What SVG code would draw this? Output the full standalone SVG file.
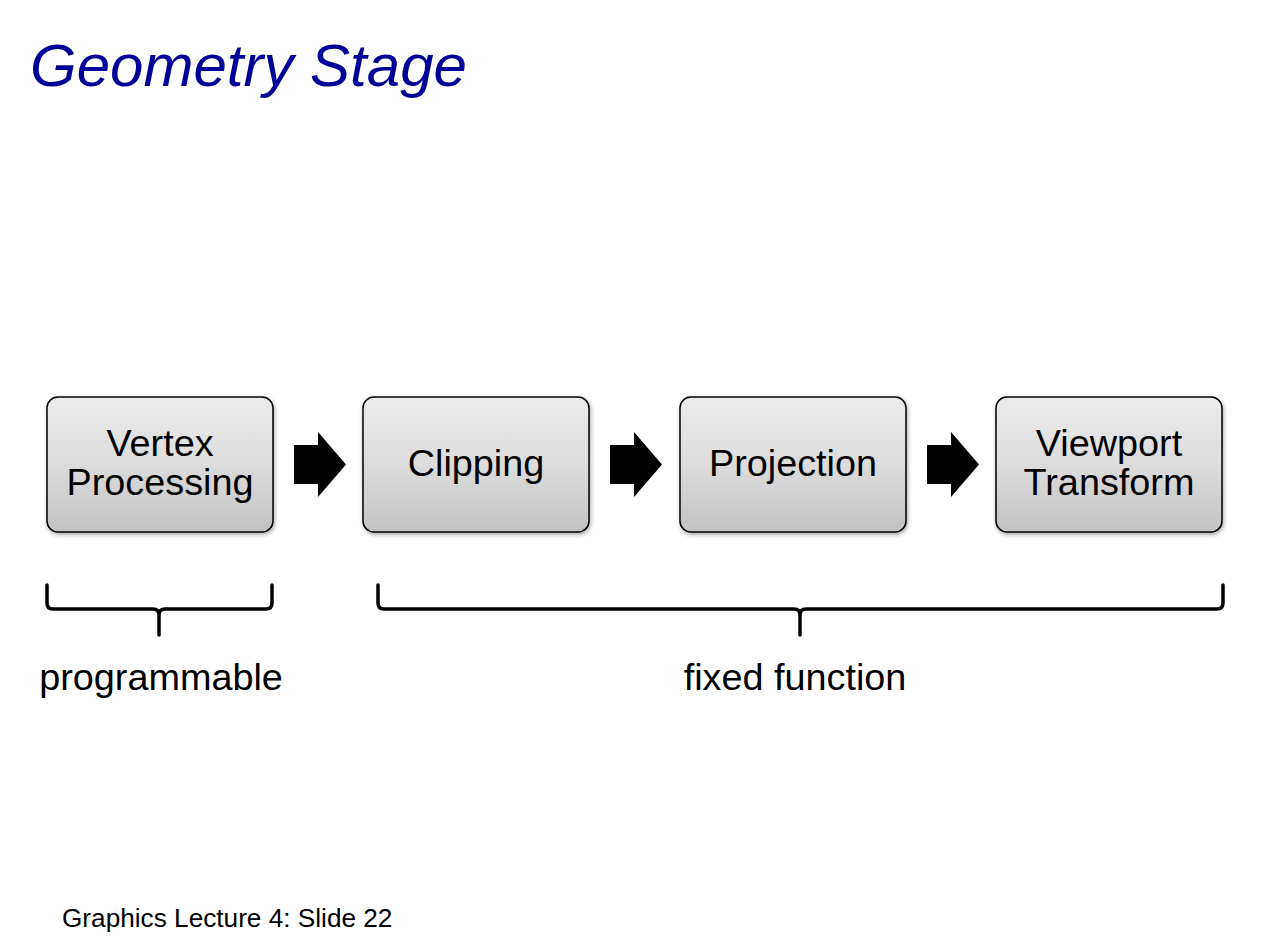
<svg xmlns="http://www.w3.org/2000/svg" width="1264" height="947" viewBox="0 0 1264 947">
<defs>
<linearGradient id="g" x1="0" y1="0" x2="0" y2="1">
<stop offset="0" stop-color="#ececec"/>
<stop offset="0.5" stop-color="#dcdcdc"/>
<stop offset="1" stop-color="#c2c2c2"/>
</linearGradient>
<filter id="sh" x="-10%" y="-10%" width="125%" height="130%">
<feDropShadow dx="1" dy="2" stdDeviation="2" flood-color="#000" flood-opacity="0.35"/>
</filter>
<path id="arr" d="M0,13 H24 V0 L52,32.5 L24,65 V52 H0 Z"/>
</defs>
<style>
.box{fill:url(#g);stroke:#000;stroke-width:1.5;filter:url(#sh)}
.t{font-family:"Liberation Sans",Arial,sans-serif;font-size:37.8px;fill:#000;text-anchor:middle}
.brace{fill:none;stroke:#000;stroke-width:3.5;stroke-linejoin:round;stroke-linecap:round}
</style>
<rect width="1264" height="947" fill="#fff"/>
<text x="30" y="86" font-family="Liberation Sans,Arial,sans-serif" font-style="italic" font-size="60" fill="#000099">Geometry Stage</text>
<g id="vertex">
<rect class="box" x="47" y="397" width="226" height="135" rx="11"/>
<text class="t" x="160" y="456">Vertex</text>
<text class="t" x="160" y="495">Processing</text>
</g>
<g id="clipping">
<rect class="box" x="363" y="397" width="226" height="135" rx="11"/>
<text class="t" x="476" y="476">Clipping</text>
</g>
<g id="projection">
<rect class="box" x="680" y="397" width="226" height="135" rx="11"/>
<text class="t" x="793" y="476">Projection</text>
</g>
<g id="viewport">
<rect class="box" x="996" y="397" width="226" height="135" rx="11"/>
<text class="t" x="1109" y="456">Viewport</text>
<text class="t" x="1109" y="495">Transform</text>
</g>
<g id="connectors">
<use href="#arr" x="294" y="432"/>
<use href="#arr" x="610" y="432"/>
<use href="#arr" x="927" y="432"/>
</g>
<g id="brace-programmable">
<path class="brace" d="M47,585 V603 Q47,609 53,609 H153 Q159,609 159,615 V635 V615 Q159,609 165,609 H266 Q272,609 272,603 V585"/>
<text class="t" x="161" y="690">programmable</text>
</g>
<g id="brace-fixed">
<path class="brace" d="M378,585 V603 Q378,609 384,609 H794 Q800,609 800,615 V635 V615 Q800,609 806,609 H1217 Q1223,609 1223,603 V585"/>
<text class="t" x="795" y="690">fixed function</text>
</g>
<text x="62" y="927" font-family="Liberation Sans,Arial,sans-serif" font-size="26.2" fill="#000">Graphics Lecture 4: Slide 22</text>
</svg>
